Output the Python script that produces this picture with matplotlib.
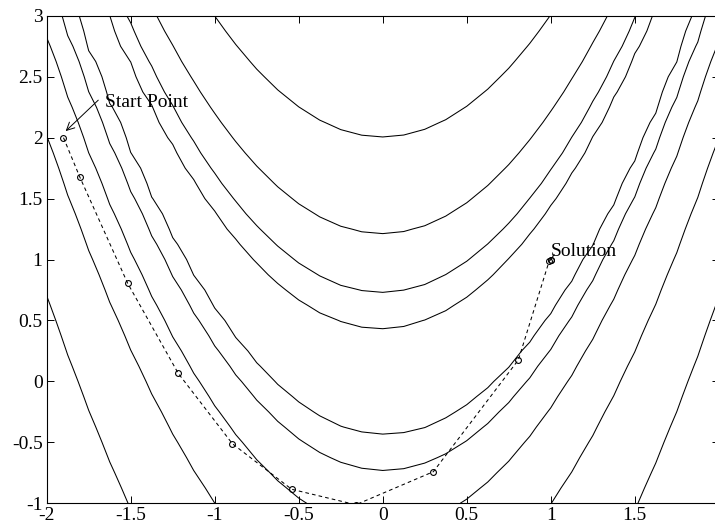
import matplotlib
matplotlib.use('Agg')
import matplotlib.pyplot as plt
import numpy as np

plt.rcParams['font.family'] = ['Liberation Serif', 'DejaVu Serif']
plt.rcParams['font.size'] = 14
plt.rcParams['axes.unicode_minus'] = False

# banana function surface on a coarse mesh, contour levels exp(3), exp(4), ...
grid_x = np.arange(-2, 2.0001, 0.125)
grid_y = np.arange(-1, 3.0001, 0.125)
level_exponents = [3, 4, 5, 6, 7, 8]

# iterates of the search path
path_x = [-1.9, -1.802, -1.518, -1.217, -0.895, -0.542, -0.16, 0.301, 0.807, 0.99, 1.0, 1.0]
path_y = [2.0, 1.674, 0.805, 0.066, -0.511, -0.885, -1.012, -0.741, 0.176, 0.985, 1.0, 1.0]

x_ticks = [-2, -1.5, -1, -0.5, 0, 0.5, 1, 1.5, 2]
y_ticks = [-1, -0.5, 0, 0.5, 1, 1.5, 2, 2.5, 3]

X, Y = np.meshgrid(grid_x, grid_y)
Z = 100 * (Y - X * X) ** 2 + (1 - X) ** 2

fig = plt.figure(figsize=(7.15, 5.27), dpi=100)
ax = fig.add_axes([0.0653, 0.045, 0.940, 0.925])

ax.contour(grid_x, grid_y, Z, levels=np.exp(level_exponents),
           colors='k', linewidths=0.75, linestyles='solid')

ax.plot(path_x, path_y, color='k', linestyle=(0, (3.5, 3)), linewidth=0.75,
        marker='o', markersize=4.2, markerfacecolor='none',
        markeredgewidth=0.8)

# start point label with its arrow
ax.text(-1.653, 2.253, 'Start Point', fontsize=14, ha='left', va='baseline')
ax.annotate('', xy=(-1.887, 2.054), xytext=(-1.693, 2.308),
            arrowprops=dict(arrowstyle='->', color='k', lw=0.7,
                            shrinkA=0, shrinkB=0))
ax.text(1.0, 1.03, 'Solution', fontsize=14, ha='left', va='baseline')
ax.plot([1.0, 1.02], [1.0, 1.04], color='k', linewidth=0.7)

ax.set_xlim(-2, 2)
ax.set_ylim(-1, 3)
ax.set_xticks(x_ticks)
ax.set_yticks(y_ticks)
ax.set_xticklabels(['%g' % v for v in x_ticks])
ax.set_yticklabels(['%g' % v for v in y_ticks])
ax.tick_params(direction='in', length=5, width=0.7, top=True, right=True,
               labelsize=14, pad=3)
for s in ax.spines.values():
    s.set_linewidth(0.8)

fig.savefig('out.png', dpi=100)
